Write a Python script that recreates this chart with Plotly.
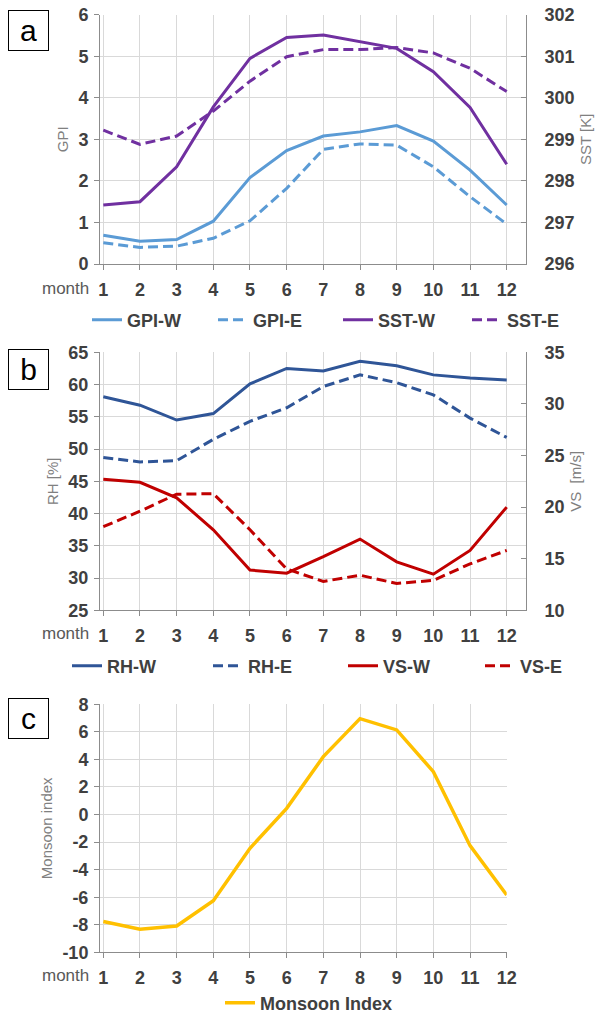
import plotly.graph_objects as go

# ---------------- data ----------------
months = list(range(1, 13))
month_labels = [str(m) for m in months]

gpi_w = [0.69, 0.55, 0.59, 1.03, 2.08, 2.73, 3.08, 3.18, 3.33, 2.96, 2.26, 1.42]
gpi_e = [0.51, 0.40, 0.43, 0.62, 1.04, 1.82, 2.76, 2.89, 2.86, 2.34, 1.62, 0.96]
sst_w = [297.42, 297.50, 298.34, 299.78, 300.95, 301.45, 301.51, 301.35, 301.19, 300.63, 299.77, 298.40]
sst_e = [299.22, 298.88, 299.08, 299.68, 300.40, 300.99, 301.16, 301.16, 301.21, 301.08, 300.71, 300.15]

rh_w = [58.1, 56.8, 54.5, 55.5, 60.1, 62.5, 62.1, 63.6, 62.9, 61.5, 61.0, 60.7]
rh_e = [48.7, 48.0, 48.2, 51.5, 54.3, 56.4, 59.7, 61.5, 60.3, 58.4, 54.8, 51.8]
vs_w = [22.7, 22.4, 20.9, 17.8, 13.9, 13.6, 15.2, 16.9, 14.7, 13.5, 15.8, 20.0]
vs_e = [18.1, 19.6, 21.25, 21.3, 17.8, 14.0, 12.8, 13.4, 12.6, 12.9, 14.5, 15.8]

monsoon = [-7.77, -8.33, -8.09, -6.25, -2.45, 0.45, 4.2, 6.96, 6.14, 3.11, -2.26, -5.84]

gpi_ticks = [0, 1, 2, 3, 4, 5, 6]
sst_ticks = [296, 297, 298, 299, 300, 301, 302]
rh_ticks = [25, 30, 35, 40, 45, 50, 55, 60, 65]
vs_ticks = [10, 15, 20, 25, 30, 35]
mi_ticks = [-10, -8, -6, -4, -2, 0, 2, 4, 6, 8]

# ---------------- style ----------------
W, H = 597, 1014
FONT = "Liberation Sans, Arial, sans-serif"
TICKC = "#404040"
TITLEC = "#808080"
GRID = "#D9D9D9"
AXC = "#8C8C8C"
DASH = "10px,5px"

C_GPI = "#5B9BD5"
C_SST = "#7030A0"
C_RH = "#2F5597"
C_VS = "#C00000"
C_MI = "#FFC000"


def xd(px):
    return px / W


def yd(py):
    return 1 - py / H


tickfont = dict(family=FONT, size=18, color=TICKC, weight="bold")
titlefont = dict(family=FONT, size=15, color=TITLEC)
legfont = dict(family=FONT, size=18, color=TICKC, weight="bold")

fig = go.Figure()

# (values, name, color, dash, xaxis, yaxis, legend id, legend text x px, legend y px)
series = [
    (gpi_w, "GPI-W", C_GPI, None, "x", "y", "legend", 130, 320),
    (gpi_e, "GPI-E", C_GPI, DASH, "x", "y", "legend2", 256, 320),
    (sst_w, "SST-W", C_SST, None, "x", "y2", "legend3", 381, 320),
    (sst_e, "SST-E", C_SST, DASH, "x", "y2", "legend4", 510, 320),
    (rh_w, "RH-W", C_RH, None, "x2", "y3", "legend5", 110, 666),
    (rh_e, "RH-E", C_RH, DASH, "x2", "y3", "legend6", 251, 666),
    (vs_w, "VS-W", C_VS, None, "x2", "y4", "legend7", 386, 666),
    (vs_e, "VS-E", C_VS, DASH, "x2", "y4", "legend8", 523, 666),
    (monsoon, "Monsoon Index", C_MI, None, "x3", "y5", "legend9", 263, 1003),
]

legends = {}
for vals, name, col, dash, xa, ya, leg, lx, ly in series:
    lw = 3.5 if name == "Monsoon Index" else 3
    fig.add_trace(go.Scatter(x=months, y=vals, name=name, mode="lines",
                             line=dict(color=col, width=lw, dash=dash),
                             xaxis=xa, yaxis=ya, legend=leg, showlegend=True))
    legends[leg] = dict(orientation="h", x=xd(lx - 43), y=yd(ly), xanchor="left",
                        yanchor="middle", font=legfont, bgcolor="rgba(0,0,0,0)",
                        borderwidth=0)

XA = (100, 526)
XR = [0.91, 12.526]


def xaxis_cfg(anchor, domain, rng):
    return dict(domain=[xd(domain[0]), xd(domain[1])], range=rng, anchor=anchor,
                tickmode="array", tickvals=months, ticktext=month_labels,
                showgrid=True, gridcolor=GRID, gridwidth=1,
                showline=True, linecolor=AXC, linewidth=1,
                ticks="outside", ticklen=5, tickcolor=AXC,
                tickfont=tickfont, ticklabelstandoff=4, zeroline=False,
                automargin=False, fixedrange=True)


def yaxis_left(anchor, top, bottom, rng, ticks, title):
    return dict(domain=[yd(bottom), yd(top)], range=rng, anchor=anchor,
                tickmode="array", tickvals=ticks, ticktext=[str(t) for t in ticks],
                showgrid=True, gridcolor=GRID, gridwidth=1,
                showline=True, linecolor=AXC, linewidth=1,
                ticks="outside", ticklen=5, tickcolor=AXC,
                tickfont=tickfont, ticklabelstandoff=2,
                title=dict(text=title, font=titlefont, standoff=6),
                zeroline=False, automargin=False, fixedrange=True)


def yaxis_right(anchor, overlay, rng, ticks, title):
    return dict(overlaying=overlay, side="right", range=rng, anchor=anchor,
                tickmode="array", tickvals=ticks, ticktext=[str(t) for t in ticks],
                showgrid=False, showline=True, linecolor=AXC, linewidth=1,
                ticks="inside", ticklen=5, tickcolor=AXC,
                tickfont=tickfont, ticklabelstandoff=14,
                title=dict(text=title, font=titlefont, standoff=6),
                zeroline=False, automargin=False, fixedrange=True)


fig.update_layout(
    width=W, height=H,
    margin=dict(l=0, r=0, t=0, b=0, pad=0, autoexpand=False),
    paper_bgcolor="white", plot_bgcolor="white",
    font=dict(family=FONT, color=TICKC),
    xaxis=xaxis_cfg("y", XA, XR),
    yaxis=yaxis_left("x", 14.7, 264, [0, 6], gpi_ticks, "GPI"),
    yaxis2=yaxis_right("x", "y", [296, 302], sst_ticks, "SST [K]"),
    xaxis2=xaxis_cfg("y3", XA, XR),
    yaxis3=yaxis_left("x2", 352.3, 610.3, [25, 65], rh_ticks, "RH [%]"),
    yaxis4=yaxis_right("x2", "y3", [10, 35], vs_ticks, "VS  [m/s]"),
    xaxis3=xaxis_cfg("y5", (100, 506.7), [0.91, 12]),
    yaxis5=yaxis_left("x3", 704.3, 952.3, [-10, 8], mi_ticks, "Monsoon index"),
    showlegend=True,
    **legends,
)

# panel letters in boxes
for letter, top in [("a", 10), ("b", 349), ("c", 698)]:
    fig.add_annotation(text=letter, xref="paper", yref="paper",
                       x=xd(7.5), y=yd(top), xanchor="left", yanchor="top",
                       showarrow=False, width=39, height=39, borderpad=0,
                       bordercolor="#000000", borderwidth=1, bgcolor="white",
                       font=dict(family=FONT, size=30, color="#000000"), valign="middle")

# "month" labels next to x tick labels
for yc in (288, 633, 975):
    fig.add_annotation(text="month", xref="paper", yref="paper",
                       x=xd(91), y=yd(yc), xanchor="right", yanchor="middle",
                       showarrow=False, font=dict(family=FONT, size=17, color="#595959"))

fig.write_html("out.html",
               config={"displayModeBar": False, "staticPlot": True},
               post_script="document.body.style.margin='0px';document.body.style.padding='0px';")
